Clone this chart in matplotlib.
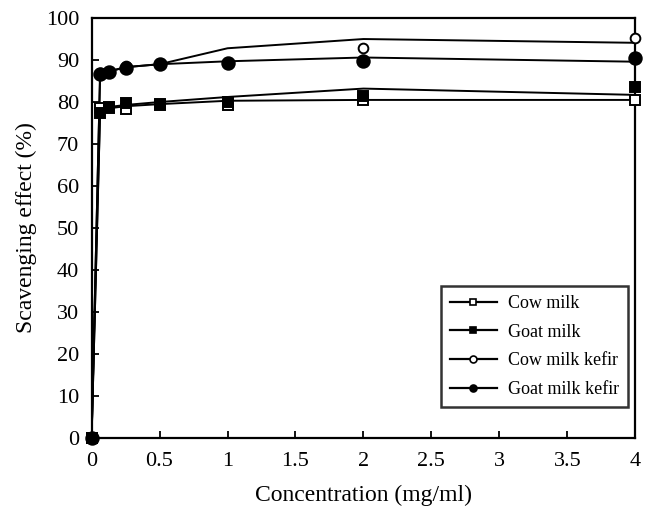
import matplotlib
matplotlib.use("Agg")
import matplotlib.pyplot as plt

conc = [0, 0.0625, 0.125, 0.25, 0.5, 1, 2, 4]

# Line (trend) values per series
cow_milk_line = [0, 77.5, 78.5, 79.0, 79.5, 80.3, 80.5, 80.5]
goat_milk_line = [0, 78.0, 78.8, 79.3, 80.0, 81.2, 83.2, 81.7]
cow_kefir_line = [0, 86.8, 87.3, 88.3, 89.0, 92.8, 95.0, 94.1]
goat_kefir_line = [0, 86.5, 87.2, 88.3, 89.0, 89.7, 90.6, 89.6]

# Measured points per series
cow_milk_pts = [0, 78.5, 78.8, 78.3, 79.3, 79.3, 80.4, 80.5]
goat_milk_pts = [0, 77.3, 78.5, 79.7, 79.5, 80.0, 81.5, 83.5]
cow_kefir_pts = [0, 86.8, 87.2, 88.5, 89.0, 89.4, 92.8, 95.2]
goat_kefir_pts = [0, 86.6, 87.2, 88.0, 89.0, 89.4, 89.8, 90.6]

labels = ["Cow milk", "Goat milk", "Cow milk kefir", "Goat milk kefir"]
xticks = [0, 0.5, 1, 1.5, 2, 2.5, 3, 3.5, 4]
xticklabels = ["0", "0.5", "1", "1.5", "2", "2.5", "3", "3.5", "4"]
yticks = list(range(0, 101, 10))

plt.rcParams['font.family'] = ['Liberation Serif', 'DejaVu Serif']

fig = plt.figure(figsize=(6.45, 5.18), dpi=100)
ax = fig.add_axes([0.142, 0.1544, 0.843, 0.8108])

series = [
    (cow_milk_line, cow_milk_pts, 's', 'white', 7, 3),
    (goat_milk_line, goat_milk_pts, 's', 'black', 7, 5),
    (cow_kefir_line, cow_kefir_pts, 'o', 'white', 7, 3),
    (goat_kefir_line, goat_kefir_pts, 'o', 'black', 9, 4),
]

handles = []
for (ln, pts, mk, fc, ms, z), lab in zip(series, labels):
    ax.plot(conc, ln, color='black', lw=1.4, zorder=2)
    ax.plot(conc, pts, linestyle='none', marker=mk, markersize=ms,
            markerfacecolor=fc, markeredgecolor='black', markeredgewidth=1.4,
            zorder=z, clip_on=False)
    h, = ax.plot([], [], color='black', lw=1.6, marker=mk, markersize=5,
                 markerfacecolor=fc, markeredgecolor='black', markeredgewidth=1.2, label=lab)
    handles.append(h)

ax.set_xlim(0, 4)
ax.set_ylim(0, 100)
ax.set_xticks(xticks)
ax.set_xticklabels(xticklabels)
ax.set_yticks(yticks)
ax.tick_params(direction='in', length=5, width=1.3, labelsize=16)
ax.tick_params(axis='x', pad=10)
ax.tick_params(axis='y', pad=9)
for s in ax.spines.values():
    s.set_linewidth(1.6)

ax.set_xlabel("Concentration (mg/ml)", fontsize=17, labelpad=10)
ax.set_ylabel("Scavenging effect (%)", fontsize=17, labelpad=6)

leg = ax.legend(handles=handles, loc='lower right', bbox_to_anchor=(1.003, 0.052),
                fontsize=13, frameon=True, fancybox=False, edgecolor='black',
                handlelength=2.6, borderpad=0.5, labelspacing=0.65, handletextpad=0.6)
leg.get_frame().set_linewidth(1.8)

fig.savefig("out.png", dpi=100)
